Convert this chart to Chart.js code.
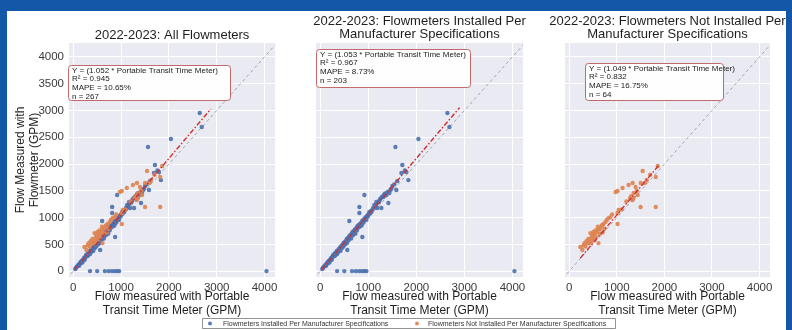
<!DOCTYPE html>
<html>
<head>
<meta charset="utf-8">
<script src="https://cdn.jsdelivr.net/npm/chart.js@4.4.1/dist/chart.umd.min.js"></script>
<style>
html,body{margin:0;padding:0;background:#fff;}
#wrap{position:relative;width:792px;height:330px;overflow:hidden;background:#fff;}
#wrap canvas{position:absolute;left:0;top:0;}
.fr{position:absolute;background:#1357a8;z-index:5;}
</style>
</head>
<body>
<div id="wrap">
  <canvas id="c1" width="792" height="330"></canvas>
  <canvas id="c2" width="792" height="330"></canvas>
  <canvas id="c3" width="792" height="330"></canvas>
  <div class="fr" style="left:0;top:0;width:7px;height:330px"></div>
  <div class="fr" style="left:0;top:0;width:792px;height:11px"></div>
  <div class="fr" style="left:786px;top:0;width:6px;height:330px"></div>
</div>
<script>
// ---------------- DATA ----------------
const xTicks = [0, 1000, 2000, 3000, 4000];
const yTicks = [0, 500, 1000, 1500, 2000, 2500, 3000, 3500, 4000];

// Flowmeters installed per manufacturer specifications [portable, flowmeter]
const installedPts = [
  [40,40],[70,80],[100,110],[120,100],[140,150],[160,170],[180,190],[190,160],[210,220],[230,250],
  [240,210],[260,270],[270,300],[290,280],[300,330],[310,290],[330,340],[340,370],[350,320],[370,390],
  [380,360],[400,420],[410,440],[420,380],[440,470],[450,430],[470,500],[480,460],[490,530],[510,540],
  [520,500],[540,570],[550,600],[560,530],[562,393],[580,620],[590,580],[600,650],[604,935],[620,640],
  [630,680],[640,610],[660,700],[670,730],[680,670],[700,750],[710,720],[720,780],[730,700],[750,800],
  [760,760],[770,840],[780,810],[800,860],[813,1196],[813,1084],[820,830],[830,880],[850,900],[860,850],
  [870,930],[875,636],[890,950],[900,910],[917,1420],[920,980],[940,1000],[958,1009],[960,960],[980,1040],
  [1000,1060],[1021,1103],[1030,1070],[1050,1120],[1080,1140],[1100,1180],[1125,1234],[1150,1230],[1167,1290],[1188,1178],
  [1200,1280],[1230,1320],[1250,1350],[1271,1178],[1280,1380],[1292,1383],[1310,1400],[1330,1430],[1350,1450],[1375,1420],
  [1417,1271],[1438,1458],[1460,1520],[1500,1590],[1540,1620],[1583,1514],[1600,1680],[1688,1832],[1708,1981],[1760,1880],
  [1792,1850],[1833,1700],[1563,2318],[2042,2467],[2646,2953],[2688,2692],
  [55,60],[90,95],[130,140],[150,140],[170,180],[200,200],[220,230],[250,260],[280,300],[320,330],
  [360,380],[390,410],[430,440],[460,480],[500,510],[530,550],[570,590],[610,630],[650,670],[690,720],
  [740,770],[790,820],[840,870],[880,900],[930,960],[990,1020],[1060,1100],[1140,1190],[1220,1290],[1320,1390],
  [1400,1480],[1480,1540],
  [350,0],[500,0],[660,0],[740,0],[810,0],[870,0],[920,0],[960,0],[4042,0]
];
// Flowmeters not installed per manufacturer specifications
const notInstalledPts = [
  [233,449],[275,393],[300,480],[320,520],[340,460],[360,560],[380,520],[400,600],[420,560],[430,520],
  [444,710],[460,620],[470,560],[480,680],[500,650],[508,729],[520,590],[530,700],[550,760],[560,640],
  [570,720],[592,766],[600,830],[613,523],[630,780],[640,700],[655,804],[680,850],[698,860],[700,720],
  [720,880],[740,790],[761,916],[790,960],[825,990],[867,1009],[900,1060],[973,1477],[1015,1084],[1015,879],
  [1015,1495],[1036,1140],[1100,1150],[1120,1551],[1200,1300],[1247,1607],[1280,1360],[1300,1400],[1332,1327],[1332,1645],
  [1353,1364],[1353,1458],[1395,1570],[1420,1500],[1438,1420],[1501,1196],[1501,1645],[1543,1869],[1586,1645],[1628,1701],
  [1700,1800],[1818,1757],[1818,1196],[1860,1963]
];

const panelTitles = [
  ["2022-2023: All Flowmeters"],
  ["2022-2023: Flowmeters Installed Per", "Manufacturer Specifications"],
  ["2022-2023: Flowmeters Not Installed Per", "Manufacturer Specifications"]
];
const slopes = [1.052, 1.053, 1.049];
const r2 = ["0.945", "0.967", "0.832"];
const mape = ["10.65%", "8.73%", "16.75%"];
const counts = [267, 203, 64];
const fitRanges = [[30, 2880], [30, 2900], [234, 1870]];
const seriesNames = ["Flowmeters Installed Per Manufacturer Specifications", "Flowmeters Not Installed Per Manufacturer Specifications"];
const xTitle = ["Flow measured with Portable", "Transit Time Meter (GPM)"];
const yTitle = ["Flow Measured with", "Flowmeter (GPM)"];

// ---------------- STYLE ----------------
const FONT = '"Liberation Sans", Arial, Helvetica, sans-serif';
const BLUE = 'rgba(76,114,176,0.92)', ORANGE = 'rgba(221,132,82,0.92)';
const X_MIN = -90, X_MAX = 4220, Y_MIN = -110, Y_MAX = 4260;
Chart.defaults.font.family = FONT;

const toXY = a => a.map(p => ({x: p[0], y: p[1]}));

const bgPlugin = {
  id: 'bg',
  beforeDraw(chart) {
    const {ctx, chartArea: a} = chart;
    ctx.save();
    ctx.fillStyle = '#eaeaf2';
    ctx.fillRect(a.left, a.top, a.right - a.left, a.bottom - a.top);
    ctx.restore();
  }
};

function overlayPlugin(idx, titleYs, box, legend) {
  return {
    id: 'overlay' + idx,
    afterDraw(chart) {
      const {ctx, chartArea: a} = chart;
      ctx.save();
      // title
      ctx.fillStyle = '#1e1e1e';
      ctx.font = '13px ' + FONT;
      ctx.textAlign = 'center';
      ctx.textBaseline = 'middle';
      const cx = (a.left + a.right) / 2;
      panelTitles[idx].forEach((t, i) => ctx.fillText(t, cx, titleYs[i]));
      // annotation box
      const lines = ['Y = (' + slopes[idx].toFixed(3) + ' * Portable Transit Time Meter)',
                     'R\u00b2 = ' + r2[idx], 'MAPE = ' + mape[idx], 'n = ' + counts[idx]];
      ctx.beginPath();
      ctx.roundRect(box.x + 0.5, box.y + 0.5, box.w, box.h, 3);
      ctx.fillStyle = 'rgba(255,255,255,0.95)';
      ctx.fill();
      ctx.strokeStyle = 'rgba(185,80,80,0.85)';
      ctx.lineWidth = 1;
      ctx.stroke();
      ctx.fillStyle = '#222';
      ctx.font = '8px ' + FONT;
      ctx.textAlign = 'left';
      lines.forEach((t, i) => ctx.fillText(t, box.x + 4, box.y + 5.5 + i * 8.6));
      // legend
      if (legend) {
        ctx.beginPath();
        ctx.rect(202.5, 318.5, 413, 10);
        ctx.fillStyle = '#fff';
        ctx.fill();
        ctx.strokeStyle = '#777';
        ctx.lineWidth = 0.8;
        ctx.stroke();
        [[210, BLUE, 223], [417, ORANGE, 428]].forEach((l, i) => {
          ctx.beginPath();
          ctx.arc(l[0], 323.5, 2, 0, Math.PI * 2);
          ctx.fillStyle = l[1];
          ctx.fill();
          ctx.fillStyle = '#333';
          ctx.font = '7px ' + FONT;
          ctx.textAlign = 'left';
          ctx.fillText(seriesNames[i], l[2], 323.8);
        });
      }
      ctx.restore();
    }
  };
}

function makePanel(id, idx, left, right, showY, pointSets, titleYs, box, legend) {
  const yW = showY ? 69 : 0;
  const [f0, f1] = fitRanges[idx];
  const datasets = [
    {type: 'line', data: [{x: f0, y: slopes[idx] * f0}, {x: f1, y: slopes[idx] * f1}],
     borderColor: '#cf2f2f', borderWidth: 1.4, borderDash: [5, 2, 1.5, 2], pointRadius: 0, fill: false},
    {type: 'line', data: [{x: -300, y: -300}, {x: 4500, y: 4500}],
     borderColor: 'rgba(125,125,145,0.75)', borderWidth: 0.9, borderDash: [3, 3], pointRadius: 0, fill: false}
  ];
  pointSets.slice().reverse().forEach(s => datasets.push({
    type: 'scatter', data: toXY(s.pts), backgroundColor: s.color, borderWidth: 0,
    pointRadius: 2.2, pointHoverRadius: 2.2
  }));
  return new Chart(document.getElementById(id), {
    type: 'scatter',
    data: {datasets},
    options: {
      responsive: false, animation: false, devicePixelRatio: 1,
      layout: {padding: {left: left - yW, right: 792 - right, top: 43, bottom: 0}},
      plugins: {legend: {display: false}, tooltip: {enabled: false}, title: {display: false}},
      scales: {
        x: {
          type: 'linear', min: X_MIN, max: X_MAX,
          afterFit(s) { s.height = 53; },
          afterBuildTicks(s) { s.ticks = xTicks.map(v => ({value: v})); },
          grid: {color: '#ffffff', lineWidth: 1, drawTicks: false},
          border: {display: false},
          ticks: {padding: 4, color: '#3a3a3a', font: {size: 11.5}, maxRotation: 0, autoSkip: false, callback: v => String(v)},
          title: {display: true, text: xTitle, color: '#1e1e1e', font: {size: 12, lineHeight: 14 / 12}, padding: {top: 0, bottom: 12}}
        },
        y: {
          type: 'linear', min: Y_MIN, max: Y_MAX,
          afterFit(s) { s.width = yW; },
          afterBuildTicks(s) { s.ticks = yTicks.map(v => ({value: v})); },
          grid: {color: '#ffffff', lineWidth: 1, drawTicks: false},
          border: {display: false},
          ticks: {display: showY, padding: 5, color: '#3a3a3a', font: {size: 11.5}, autoSkip: false, callback: v => String(v)},
          title: {display: showY, text: yTitle, color: '#1e1e1e', font: {size: 12, lineHeight: 14 / 12}, padding: {top: 14, bottom: 0}}
        }
      }
    },
    plugins: [bgPlugin, overlayPlugin(idx, titleYs, box, legend)]
  });
}

makePanel('c1', 0, 69, 275, true,
  [{pts: installedPts, color: BLUE}, {pts: notInstalledPts, color: ORANGE}],
  [35], {x: 68, y: 65, w: 162, h: 35}, false);
makePanel('c2', 1, 316, 523, false,
  [{pts: installedPts, color: BLUE}],
  [21, 34], {x: 316, y: 49, w: 154, h: 38}, true);
makePanel('c3', 2, 565, 770, false,
  [{pts: notInstalledPts, color: ORANGE}],
  [21, 34], {x: 585, y: 63, w: 138, h: 37}, false);
</script>
</body>
</html>
